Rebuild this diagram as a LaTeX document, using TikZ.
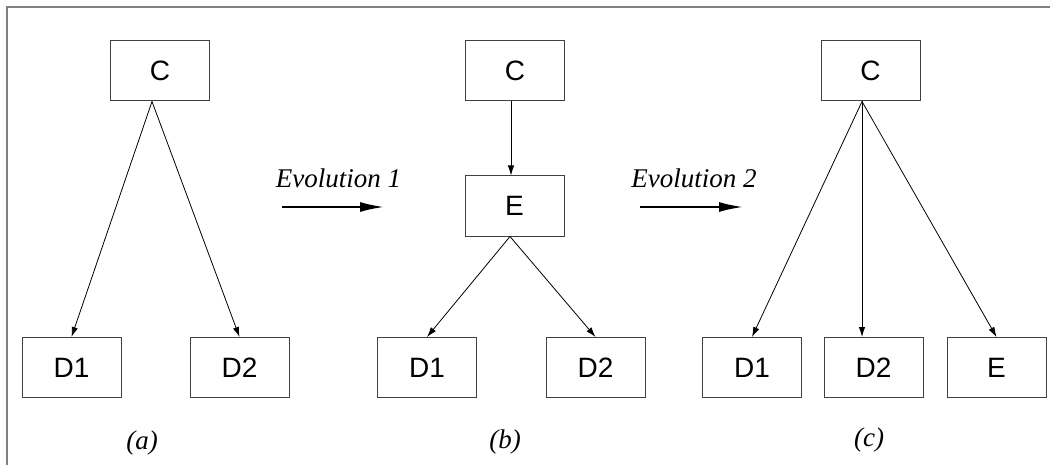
\documentclass[tikz,border=0pt]{standalone}
\usepackage{fontspec}
\setmainfont{Liberation Serif}
\setsansfont{Liberation Sans}
\usetikzlibrary{arrows.meta}

\begin{document}
\begin{tikzpicture}[x=0.5pt,y=-0.5pt,
  box/.style={draw=black!75, line width=0.5pt, minimum width=49.5pt, minimum height=30pt, inner sep=0pt, font=\sffamily\fontsize{14}{14}\selectfont},
  conn/.style={-{Latex[length=5pt,width=3.2pt]}, line width=0.4pt},
  evo/.style={-{Latex[length=12pt,width=5pt]}, line width=1pt},
  lbl/.style={font=\itshape\fontsize{13.5}{13.5}\selectfont}]
\useasboundingbox (0,0) rectangle (1050,465);
\draw [gray, line width=1pt] (7,465) -- (7,7) -- (1050,7);

% (a)
\node [box] (ca) at (160,71) {C};
\node [box] (da1) at (71.5,367.5) {D1};
\node [box] (da2) at (239.5,367.5) {D2};
\draw [conn] ([xshift=-4pt]ca.south) -- (da1.north);
\draw [conn] ([xshift=-4pt]ca.south) -- (da2.north);
\node [lbl] (la) at (142,443) {(a)};

% evolution 1
\node [lbl, anchor=base] (t1) at (338.5,188) {Evolution 1};
\coordinate (e1s) at (282,207);
\coordinate (e1e) at (384,207);
\draw [evo] (e1s) -- (e1e);

% (b)
\node [box] (cb) at (515,71) {C};
\node [box] (eb) at (514.5,206) {E};
\node [box] (db1) at (427,367.5) {D1};
\node [box] (db2) at (595.5,367.5) {D2};
\coordinate (apexb) at ([xshift=-2pt]cb.south);
\draw [conn] (apexb) -- (apexb |- eb.north);
\draw [conn] ([xshift=-2.25pt]eb.south) -- (db1.north);
\draw [conn] ([xshift=-2.25pt]eb.south) -- (db2.north);
\node [lbl] (lb) at (505,442) {(b)};

% evolution 2
\node [lbl, anchor=base] (t2) at (694,188) {Evolution 2};
\coordinate (e2s) at (640,207);
\coordinate (e2e) at (743,207);
\draw [evo] (e2s) -- (e2e);

% (c)
\node [box] (cc) at (870.5,71) {C};
\node [box] (dc1) at (752,367.5) {D1};
\node [box] (dc2) at (873.5,367.5) {D2};
\node [box] (ec) at (996.5,367.5) {E};
\coordinate (apexc) at ([xshift=-4.25pt]cc.south);
\draw [conn] (apexc) -- (dc1.north);
\draw [conn] (apexc) -- (apexc |- dc2.north);
\draw [conn] (apexc) -- (ec.north);
\node [lbl] (lc) at (869,440) {(c)};

\end{tikzpicture}
\end{document}
